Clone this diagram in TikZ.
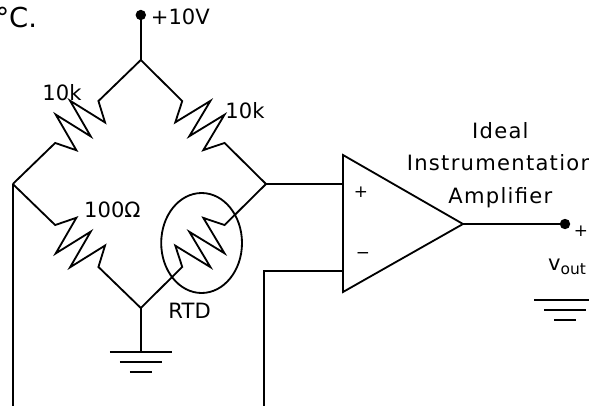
\documentclass[tikz,border=0pt]{standalone}
\usepackage{fontspec}
\setmainfont{DejaVu Sans}
\usetikzlibrary{calc}

\tikzset{
  lbl/.style={font=\fontsize{15}{18}\selectfont, inner sep=0pt},
  sml/.style={font=\fontsize{12}{14}\selectfont, inner sep=0pt},
  res/.style={to path={
    -- ($(\tikztostart)!.331!(\tikztotarget)$)
    -- ($(\tikztostart)!.388!(\tikztotarget)!.5cm!90:(\tikztotarget)$)
    -- ($(\tikztostart)!.444!(\tikztotarget)!.5cm!-90:(\tikztotarget)$)
    -- ($(\tikztostart)!.5!(\tikztotarget)!.5cm!90:(\tikztotarget)$)
    -- ($(\tikztostart)!.556!(\tikztotarget)!.5cm!-90:(\tikztotarget)$)
    -- ($(\tikztostart)!.612!(\tikztotarget)!.5cm!90:(\tikztotarget)$)
    -- ($(\tikztostart)!.669!(\tikztotarget)$)
    -- (\tikztotarget)}},
}

\begin{document}
\begin{tikzpicture}[line width=1.3pt]
\useasboundingbox (0,0) rectangle (14.725,10.15);

\node [anchor=base east, inner sep=0pt, font=\fontsize{19.5}{22}\selectfont] (unit) at (0.95,9.475) {°C.};

% bridge
\coordinate (top) at (3.52,8.65);
\coordinate (lft) at (0.32,5.55);
\coordinate (rgt) at (6.65,5.55);
\coordinate (bot) at (3.52,2.45);
\coordinate (supply) at (3.52,9.775);

\draw (supply) -- (top);
\fill (supply) circle [radius=0.13];
\node [lbl, anchor=base west] (vsup) at (3.75,9.55) {+10V};

\draw (top) to[res] (lft);
\draw (rgt) to[res] (top);
\draw (lft) to[res] (bot);
\draw (bot) to[res] (rgt);

\node [lbl, anchor=base] (r1) at (1.55,7.65) {10k};
\node [lbl, anchor=base] (r2) at (6.125,7.2) {10k};
\node [lbl, anchor=base] (r3) at (2.81,4.725) {100Ω};
\node [lbl, anchor=base] (rtd) at (4.74,2.2) {RTD};
\draw (5.04,4.075) ellipse [x radius=1.01, y radius=1.25];

% ground under the bridge
\coordinate (gnd) at (3.52,1.35);
\draw (bot) -- (gnd);
\draw (gnd) ++(-0.775,0) -- ++(1.55,0);
\draw (gnd) ++(-0.525,-0.25) -- ++(1.05,0);
\draw (gnd) ++(-0.275,-0.5) -- ++(0.55,0);

% amplifier
\coordinate (amptop) at (8.575,6.275);
\coordinate (ampbot) at (8.575,2.85);
\coordinate (ampout) at (11.575,4.55);
\coordinate (inp) at (8.575,5.55);
\coordinate (inm) at (8.575,3.375);
\coordinate (corner) at (6.6,3.375);
\coordinate (mend) at (6.6,0);
\coordinate (lend) at (0.32,0);
\draw (amptop) -- (ampout) -- (ampbot) -- cycle;
\node [sml] (plus) at (9.025,5.35) {+};
\node [sml] (minus) at (9.075,3.75) {−};

\draw (rgt) -- (inp);
\draw (inm) -- (corner) -- (mend);
\draw (lft) -- (lend);

\node [lbl, anchor=base, align=center] (title) at (12.51,5.075)
  {\addfontfeature{LetterSpace=6}Ideal\\[5.1pt]\addfontfeature{LetterSpace=6}Instrumentation\\[5.1pt]\addfontfeature{LetterSpace=6}Amplifier};

% output
\coordinate (vout) at (14.125,4.55);
\draw (ampout) -- (vout);
\fill (vout) circle [radius=0.13];
\node [sml] (oplus) at (14.525,4.375) {+};
\node [lbl, anchor=base west] (vlbl) at (13.68,3.4)
  {v\raisebox{-3pt}{\fontsize{11}{13}\selectfont out}};

\coordinate (ognd) at (14.125,2.65);
\draw (ognd) ++(-0.775,0) -- ++(1.55,0);
\draw (ognd) ++(-0.525,-0.25) -- ++(1.05,0);
\draw (ognd) ++(-0.275,-0.5) -- ++(0.55,0);

\end{tikzpicture}
\end{document}
